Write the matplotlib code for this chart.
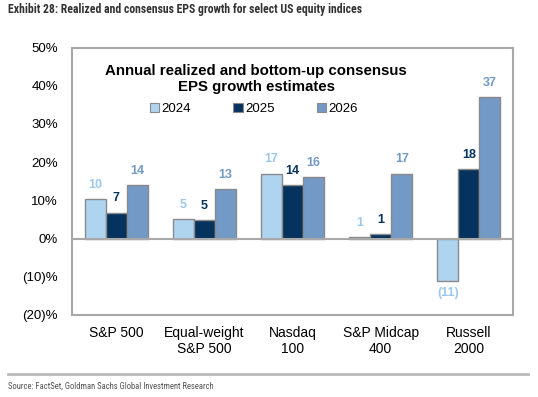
import matplotlib
matplotlib.use("Agg")
import matplotlib.pyplot as plt
from matplotlib.patches import Patch
from matplotlib import font_manager
import numpy as np

categories = ["S&P 500", "Equal-weight\nS&P 500", "Nasdaq\n100", "S&P Midcap\n400", "Russell\n2000"]
series_names = ["2024", "2025", "2026"]
v2024 = [10.3, 5.0, 17.0, 0.4, -11.2]
v2025 = [6.8, 4.8, 14.0, 1.2, 18.2]
v2026 = [13.9, 12.9, 16.1, 17.0, 37.0]
labels2024 = ["10", "5", "17", "1", "(11)"]
labels2025 = ["7", "5", "14", "1", "18"]
labels2026 = ["14", "13", "16", "17", "37"]
yticks = [-20, -10, 0, 10, 20, 30, 40, 50]
yticklabels = ["(20)%", "(10)%", "0%", "10%", "20%", "30%", "40%", "50%"]

fill_colors = ["#AED4F0", "#06325E", "#7399C6"]
label_colors = ["#9CC8EE", "#06325E", "#7399C6"]

plt.rcParams['font.family'] = ['Liberation Sans', 'DejaVu Sans']

names = sorted({f.name for f in font_manager.fontManager.ttflist})
cond = None
for cand in ["Liberation Sans Narrow", "DejaVu Sans Condensed", "Roboto Condensed", "Open Sans Condensed"]:
    if cand in names:
        cond = cand
        break

fig = plt.figure(figsize=(5.38, 3.97), dpi=100)
ax = fig.add_axes([72/538, 1-315/397, 441/538, (315-47.5)/397])

x = np.arange(len(categories))
w = 0.238
allvals = [v2024, v2025, v2026]
alllabels = [labels2024, labels2025, labels2026]
for i, (vals, labs) in enumerate(zip(allvals, alllabels)):
    pos = x + (i - 1) * w
    ax.bar(pos, vals, width=w, color=fill_colors[i], edgecolor="#8A8A8A",
           linewidth=1.0, zorder=2)
    for p, v, lab in zip(pos, vals, labs):
        if v >= 0:
            ax.annotate(lab, (p, v), xytext=(0, 6), textcoords="offset points",
                        ha="center", va="bottom", fontsize=9, fontweight="bold",
                        color=label_colors[i])
        else:
            ax.annotate(lab, (p, v), xytext=(0, -4), textcoords="offset points",
                        ha="center", va="top", fontsize=9, fontweight="bold",
                        color=label_colors[i])

ax.axhline(0, color="#A8A8A8", linewidth=1.5, zorder=3)
ax.set_xlim(-0.5, len(categories) - 0.5)
ax.set_ylim(-20, 50)
ax.set_yticks(yticks)
ax.set_yticklabels(yticklabels, fontsize=9.5)
ax.set_xticks(x)
ax.set_xticklabels(categories, fontsize=10, linespacing=1.15)
ax.tick_params(axis="y", length=0, pad=10)
ax.tick_params(axis="x", length=0, pad=8)
for s in ax.spines.values():
    s.set_color("#A8A8A8")
    s.set_linewidth(1.5)

fig.text(256/538, 1-79/397, "Annual realized and bottom-up consensus\nEPS growth estimates",
         ha="center", va="center", fontsize=10.8, fontweight="bold", linespacing=1.1)

handles = [Patch(facecolor=fill_colors[i], edgecolor="#8A8A8A", linewidth=0.8, label=series_names[i])
           for i in range(3)]
fig.legend(handles=handles, loc="center", bbox_to_anchor=(254/538, 1-109/397), ncol=3,
           frameon=False, fontsize=9.5, handlelength=0.7, handleheight=0.7,
           handletextpad=0.2, columnspacing=3.2)

if cond:
    fam = [cond, 'Liberation Sans', 'DejaVu Sans']
    hsize, ssize = 8.5, 6.2
else:
    fam = ['Liberation Sans', 'DejaVu Sans']
    hsize, ssize = 7.0, 5.3
fig.text(8/538, 1-9/397, "Exhibit 28: Realized and consensus EPS growth for select US equity indices",
         ha="left", va="center", fontsize=hsize, fontweight="bold", color="#333333",
         family=fam)
fig.add_artist(plt.Line2D([8/538, 528/538], [1-374/397, 1-374/397], color="#BBBBBB", linewidth=2))
fig.text(8/538, 1-386/397, "Source: FactSet, Goldman Sachs Global Investment Research",
         ha="left", va="center", fontsize=ssize, color="#555555",
         family=fam)

fig.savefig("out.png", dpi=100)
